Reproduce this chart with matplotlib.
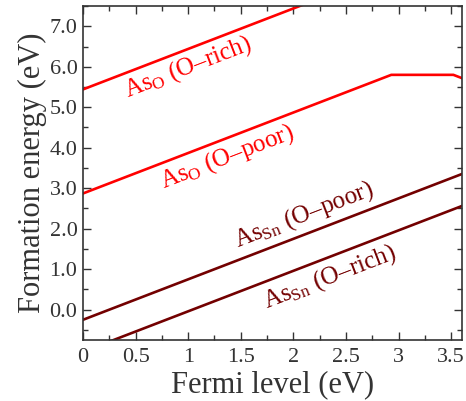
import matplotlib
matplotlib.use('Agg')
import matplotlib.pyplot as plt
from matplotlib.ticker import MultipleLocator, FixedLocator

plt.rcParams['font.family'] = ['Liberation Serif', 'DejaVu Serif']
plt.rcParams['mathtext.fontset'] = 'custom'
plt.rcParams['mathtext.rm'] = 'Liberation Serif'
plt.rcParams['mathtext.it'] = 'Liberation Serif:italic'

# Fermi level (eV) and formation energies (eV)
aso_rich_x = [0.0, 3.6]
aso_rich_y = [5.44, 9.04]
aso_poor_x = [0.0, 2.93, 3.52, 3.6]
aso_poor_y = [2.87, 5.80, 5.80, 5.72]
assn_poor_x = [0.0, 3.6]
assn_poor_y = [-0.25, 3.35]
assn_rich_x = [0.0, 3.6]
assn_rich_y = [-1.04, 2.56]

x_ticks = [0, 0.5, 1, 1.5, 2, 2.5, 3, 3.5]
x_ticklabels = ['0', '0.5', '1', '1.5', '2', '2.5', '3', '3.5']
y_ticks = [0, 1, 2, 3, 4, 5, 6, 7]
y_ticklabels = ['0.0', '1.0', '2.0', '3.0', '4.0', '5.0', '6.0', '7.0']

red = '#ff0000'
dark = '#730000'
gray = '#333333'

fig = plt.figure(figsize=(4.66, 4.01), dpi=100)
ax = fig.add_axes([0.178, 0.152, 0.813, 0.833])

ax.plot(aso_rich_x, aso_rich_y, color=red, lw=1.9)
ax.plot(aso_poor_x, aso_poor_y, color=red, lw=1.9)
ax.plot(assn_poor_x, assn_poor_y, color=dark, lw=1.9)
ax.plot(assn_rich_x, assn_rich_y, color=dark, lw=1.9)

ax.set_xlim(0, 3.6)
ax.set_ylim(-0.75, 7.5)

ax.xaxis.set_major_locator(FixedLocator(x_ticks))
ax.set_xticklabels(x_ticklabels)
ax.yaxis.set_major_locator(FixedLocator(y_ticks))
ax.set_yticklabels(y_ticklabels)
ax.xaxis.set_minor_locator(MultipleLocator(0.25))
ax.yaxis.set_minor_locator(MultipleLocator(0.5))
ax.tick_params(which='both', direction='in', top=True, right=True, color=gray,
               labelcolor=gray, labelsize=16)
ax.tick_params(which='major', length=6, width=1)
ax.tick_params(which='minor', length=3.5, width=1)
ax.tick_params(axis='x', pad=6)
ax.tick_params(axis='y', pad=4)
for s in ax.spines.values():
    s.set_color(gray)
    s.set_linewidth(1.2)

ax.set_xlabel('Fermi level (eV)', fontsize=22, color=gray, labelpad=2)
ax.set_ylabel('Formation energy (eV)', fontsize=22, color=gray, labelpad=2)

kw = dict(ha='center', va='center', rotation=45, rotation_mode='anchor',
          transform_rotates_text=True, fontsize=18)
ax.text(1.0, 5.98, r'As$_\mathrm{O}$ (O–rich)', color=red, **kw)
ax.text(1.37, 3.78, r'As$_\mathrm{O}$ (O–poor)', color=red, **kw)
ax.text(2.10, 2.35, r'As$_\mathrm{Sn}$ (O–poor)', color=dark, **kw)
ax.text(2.34, 0.79, r'As$_\mathrm{Sn}$ (O–rich)', color=dark, **kw)

fig.savefig('out.png', dpi=100)
